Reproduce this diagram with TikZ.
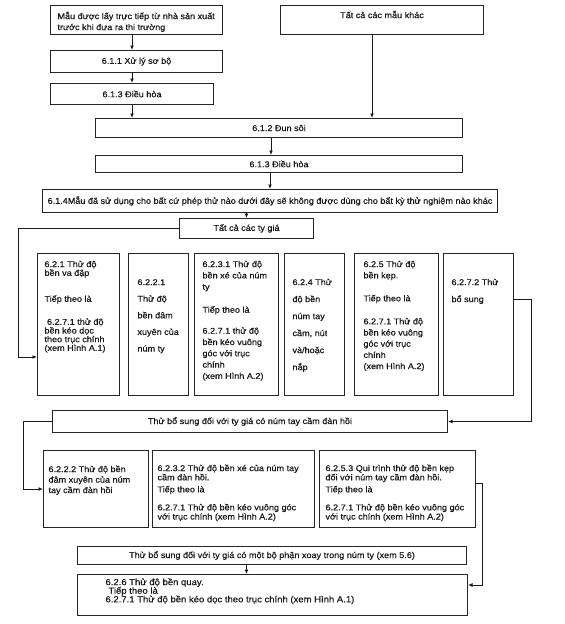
\documentclass[tikz,border=0pt]{standalone}
\usepackage{fontspec}
\setmainfont{Liberation Sans}[FakeStretch=1.08,FakeBold=0.5]
\usetikzlibrary{arrows.meta}
\newcommand\tbx[6]{\parbox[c][#2pt][t]{#1pt}{\fontsize{8.4}{#5pt}\selectfont\vspace*{#4pt}\leftskip=#3pt\relax\noindent\rule{0pt}{8pt}#6}}
\newcommand\cbx[4]{\parbox[c][#2pt][t]{#1pt}{\fontsize{8.4}{10pt}\selectfont\centering\vspace*{#3pt}\rule{0pt}{8pt}#4}}
\begin{document}
\begin{tikzpicture}[x=1pt,y=-1pt,
  font=\fontsize{8.4}{10pt}\selectfont,
  bx/.style={draw=black!85, line width=1pt, inner sep=0pt, anchor=north west, text=black!90},
  conn/.style={draw=black!90, line width=1pt},
  arr/.style={conn, -{Latex[length=4.5pt,width=3.8pt]}}]
\useasboundingbox[fill=white] (0,0) rectangle (565,624);

% top part
\node[bx] (A) at (50,5) {\tbx{172}{29}{7}{5.6}{11}{Mẫu được lấy trực tiếp từ nhà sản xuất\\trước khi đưa ra thi trường}};
\node[bx] (B) at (280,5) {\cbx{203}{29}{4.6}{Tất cả các mẫu khác}};
\node[bx, minimum width=172pt, minimum height=22pt] (C) at (50,50) {6.1.1 Xử lý sơ bộ};
\node[bx, minimum width=163pt, minimum height=21pt] (D) at (50,83) {6.1.3 Điều hòa};
\node[bx, minimum width=367pt, minimum height=19pt] (E) at (95,118) {6.1.2 Đun sôi};
\node[bx, minimum width=367pt, minimum height=17pt] (F) at (95,155) {6.1.3 Điều hòa};
\node[bx, minimum width=455pt, minimum height=23pt] (G) at (42,189) {6.1.4Mẫu đã sử dụng cho bất cứ phép thử nào dưới đây sẽ không được dùng cho bất kỳ thử nghiệm nào khác};
\node[bx, minimum width=134pt, minimum height=20pt] (H) at (179,218) {Tất cả các ty giá};

% row of tests
\node[bx] (R1) at (37,253) {\tbx{82}{142}{7}{5.6}{8.7}{6.2.1 Thử độ\\bền va đập\\[17.3pt]Tiếp theo là\\[14.3pt]\hspace*{2.5pt}6.2.7.1 thử độ\\bền kéo dọc\\theo trục chính\\(xem Hình A.1)}};
\node[bx] (R2) at (128,253) {\tbx{60}{142}{9}{23.6}{16.6}{6.2.2.1\\Thử độ\\bền đâm\\xuyên của\\núm ty}};
\node[bx] (R3) at (194,253) {\tbx{84}{142}{8}{5.6}{11.3}{6.2.3.1 Thử độ\\bền xé của núm\\ty\\[11.7pt]Tiếp theo là\\[9.7pt]6.2.7.1 thử độ\\bền kéo vuông\\góc với trục\\chính\\(xem Hình A.2)}};
\node[bx] (R4) at (284,253) {\tbx{60}{142}{8}{23.6}{17}{6.2.4 Thử\\độ bền\\núm tay\\cầm, nút\\và/hoặc\\nắp}};
\node[bx] (R5) at (354,253) {\tbx{84}{142}{9}{5.6}{11.2}{6.2.5 Thử độ\\bền kẹp.\\[11.8pt]Tiếp theo là\\[11.8pt]6.2.7.1 Thử độ\\bền kéo vuông\\góc với trục\\chính\\(xem Hình A.2)}};
\node[bx] (R6) at (443,253) {\tbx{70}{142}{8}{23.6}{17}{6.2.7.2 Thử\\bổ sung}};

% elastic teat
\node[bx, minimum width=395pt, minimum height=22pt] (I) at (52,410) {Thử bổ sung đối với ty giá có núm tay cầm đàn hồi};
\node[bx] (J1) at (43,450) {\tbx{105}{77}{5}{13.6}{10.5}{6.2.2.2 Thử độ bền\\đâm xuyên của núm\\tay cầm đàn hồi}};
\node[bx] (J2) at (152,450) {\tbx{162}{77}{5}{12.6}{9.2}{6.2.3.2 Thử độ bền xé của núm tay\\cầm đàn hồi.\\[2.8pt]Tiếp theo là\\[8.8pt]6.2.7.1 Thử độ bền kéo vuông góc\\với trục chính (xem Hình A.2)}};
\node[bx] (J3) at (319,450) {\tbx{156}{77}{6}{12.6}{9.2}{6.2.5.3 Qui trình thử độ bền kẹp\\đối với núm tay cầm đàn hồi.\\[2.8pt]Tiếp theo là\\[8.8pt]6.2.7.1 Thử độ bền kéo vuông góc\\với trục chính (xem Hình A.2)}};

% rotating part
\node[bx, minimum width=389pt, minimum height=18pt] (K) at (77,546) {Thử bổ sung đối với ty giá có một bộ phận xoay trong núm ty (xem 5.6)};
\node[bx] (L) at (77,574) {\parbox[c][41pt][t]{390pt}{\fontsize{8.8}{8.6pt}\selectfont\vspace*{2.6pt}\leftskip=28pt\relax\noindent\rule{0pt}{8pt}6.2.6 Thử độ bền quay.\\\hspace*{3pt}Tiếp theo là\\6.2.7.1 Thử độ bền kéo dọc theo trục chính (xem Hình A.1)}};

% helper coordinates
\coordinate (c1) at (18,357);
\coordinate (c2) at (531,299);
\coordinate (c3) at (23,489);
\coordinate (c4) at (482,483);
\coordinate (c5) at (482,585);

% connectors
\draw[arr] (A.south -| D.north) -- (C.north -| D.north);
\draw[arr] (C.south -| D.north) -- (D.north);
\draw[arr] (D.south) -- (E.north -| D.south);
\draw[arr] ([xshift=-10pt]B.south) -- ([xshift=-10pt]B.south |- E.north);
\draw[arr] ([xshift=-8pt]E.south) -- ([xshift=-8pt]F.north);
\draw[arr] (F.south -| G.north) -- (G.north);
\draw[arr] (G.south -| H.north) -- (H.north);
\draw[arr] (H.west) -| (c1) -- (R1.west |- c1);
\draw[arr] (R6.east |- c2) -- (c2) |- (I.east);
\draw[arr] (I.west) -| (c3) -- (J1.west |- c3);
\draw[arr] (J3.east |- c4) -- (c4) -- (c5) -- (L.east |- c5);
\draw[arr] (K.south -| H.north) -- (L.north -| H.north);
\end{tikzpicture}
\end{document}
